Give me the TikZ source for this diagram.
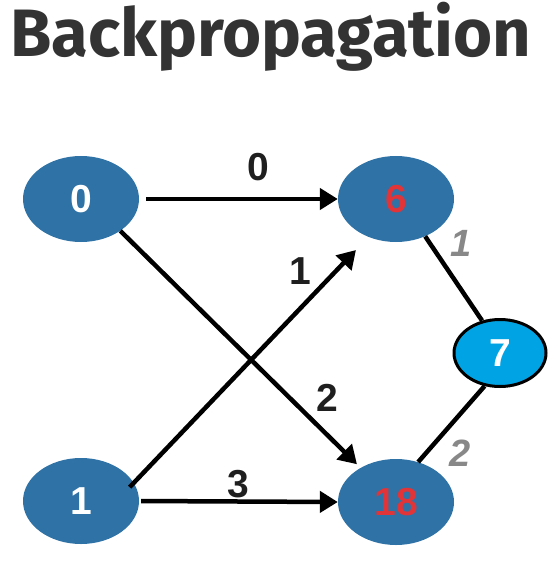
\documentclass[tikz,border=0pt]{standalone}
\usepackage{fontspec}
\setmainfont{Liberation Sans}
\newfontfamily\titlefont{Fira Sans}
\usetikzlibrary{shapes.geometric,arrows.meta,positioning}
\definecolor{nodeblue}{RGB}{46,114,166}
\definecolor{outblue}{RGB}{0,164,228}
\definecolor{valred}{RGB}{224,52,56}
\definecolor{wgray}{RGB}{136,136,136}
\definecolor{titlegray}{RGB}{51,51,51}

\begin{document}
\begin{tikzpicture}[x=1pt,y=-1pt,every node/.append style={font=\fontsize{39}{40}\selectfont\bfseries}]
    \tikzstyle{main}=[ellipse, fill=nodeblue, minimum width=116pt, minimum height=86pt, inner sep=0pt]
    \tikzstyle{outnode}=[ellipse, fill=outblue, draw=black, line width=3pt, minimum width=92pt, minimum height=67pt, inner sep=0pt]
    \tikzstyle{arr}=[-{Triangle[length=18pt,width=21pt]}, line width=4.5pt]
    \tikzstyle{wlabel}=[text=black!88]
    \tikzstyle{glabel}=[text=wgray, font=\fontsize{38}{38}\selectfont\bfseries\itshape]
    \useasboundingbox (0,0) rectangle (550,561);
    \node[anchor=base west, text=titlegray, inner sep=0pt, font=\titlefont\fontsize{67}{70}\selectfont\bfseries] (title) at (10,57) {Backpropagation};
    % input and hidden nodes
    \foreach \name/\x/\y/\val/\col in {n0/81/199/0/white, n1/81/501/1/white, n6/396/199/6/valred, n18/396/502/18/valred} {
        \node[main, text=\col] (\name) at (\x,\y) {\val};
    }
    \node[outnode, text=white] (n7) at (500,353) {7};
    % weighted edges
    \draw[arr, shorten <=7pt] (n0.east) -- (n6.west);
    \draw[arr, shorten >=5pt] (n0.321) -- (n18.136);
    \draw[arr, shorten <=-6pt, shorten >=18pt] (n1.19) -- (n6.234);
    \draw[arr, shorten <=2pt] (n1.east) -- (n18.west);
    \draw[line width=4.5pt] (n6.308) -- (n7.119);
    \draw[line width=4.5pt] (n18.61) -- (n7.245);
    \node[wlabel] (w0) at (258,167) {0};
    \node[wlabel] (w1) at (300,271) {1};
    \node[wlabel] (w2) at (327,398) {2};
    \node[wlabel] (w3) at (238,484) {3};
    \node[glabel] (g1) at (461,243) {1};
    \node[glabel] (g2) at (460,453) {2};
\end{tikzpicture}
\end{document}
